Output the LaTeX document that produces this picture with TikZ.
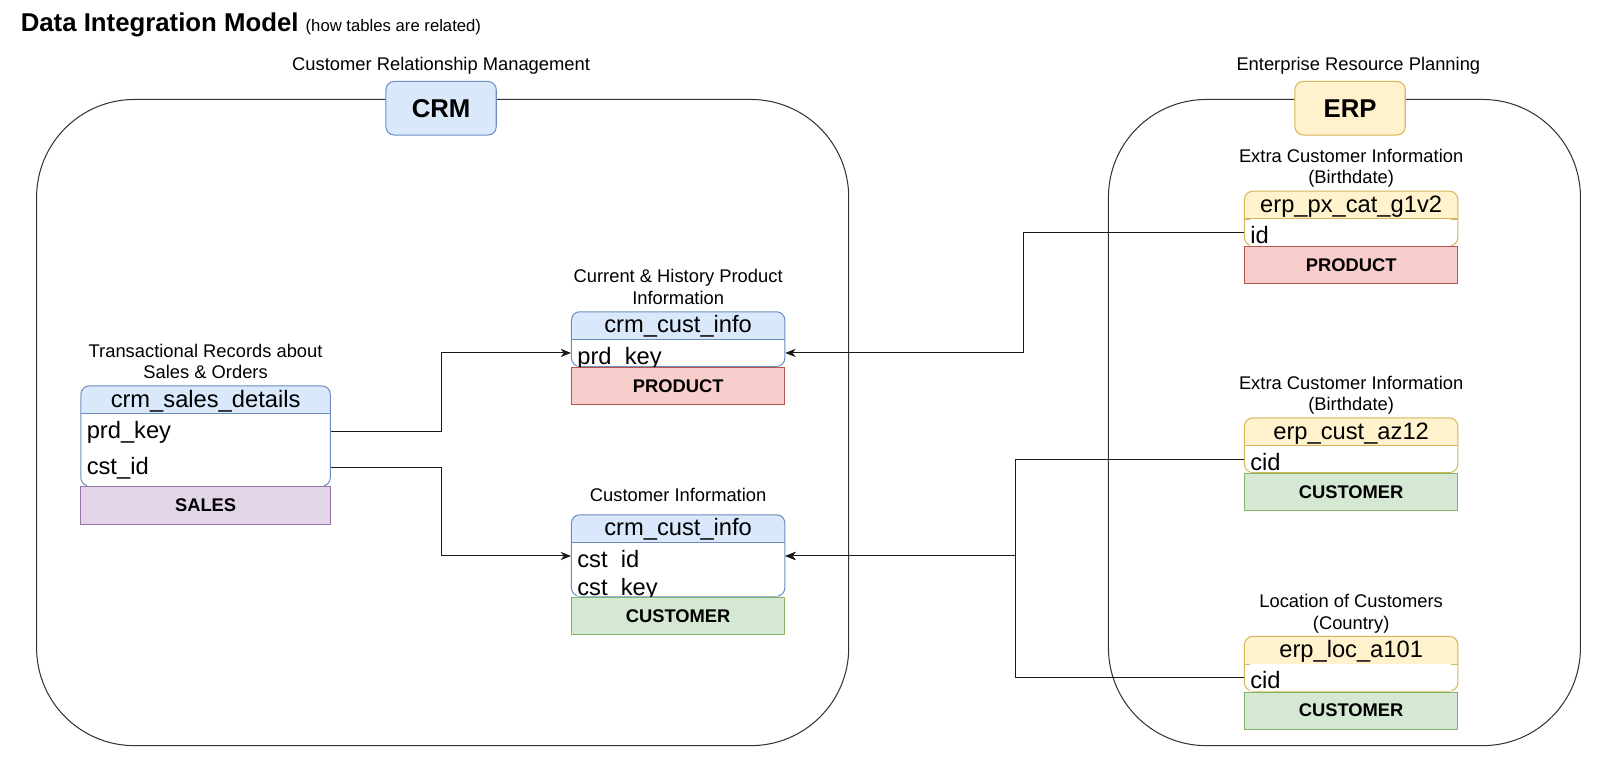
\documentclass[tikz,border=0pt]{standalone}
\usepackage{fontspec}
\setmainfont{Liberation Sans}
\usetikzlibrary{positioning,arrows.meta}

\definecolor{crmfill}{HTML}{DAE8FC}
\definecolor{crmline}{HTML}{6C8EBF}
\definecolor{erpfill}{HTML}{FFF2CC}
\definecolor{erpline}{HTML}{D6B656}
\definecolor{salesfill}{HTML}{E1D5E7}
\definecolor{salesline}{HTML}{9673A6}
\definecolor{prodfill}{HTML}{F8CECC}
\definecolor{prodline}{HTML}{B85450}
\definecolor{custfill}{HTML}{D5E8D4}
\definecolor{custline}{HTML}{82B366}

\newcommand{\lblfont}{\fontsize{17.8}{21}\selectfont}
\newcommand{\tblfont}{\fontsize{23}{26}\selectfont}

\tikzset{
  system/.style={draw=black!80, line width=1pt, rounded corners=95pt,
    anchor=north west, inner sep=0pt},
  syslabel/.style 2 args={draw=#1, fill=#2, rounded corners=8pt, line width=1pt,
    minimum width=107pt, minimum height=52pt,
    font=\bfseries\fontsize{25}{30}\selectfont},
  caption/.style={font=\lblfont, align=center, inner sep=0pt},
  dbtable/.style n args={4}{draw=#1, fill=white, line width=1pt, rounded corners=8pt,
    anchor=north west, inner sep=0pt, minimum width=#3, minimum height=#4,
    path picture={
      \fill[#2, sharp corners] (path picture bounding box.north west)
        rectangle ([yshift=-27pt]path picture bounding box.north east);
      \draw[#1, line width=1pt, sharp corners]
        ([yshift=-27pt]path picture bounding box.north west)
        -- ([yshift=-27pt]path picture bounding box.north east);}},
  hdr/.style={font=\tblfont, inner sep=0pt, text height=18pt, text depth=3pt},
  field/.style 2 args={anchor=north west, fill=white, inner sep=0pt, font=\tblfont,
    text width=#1, text height=23.5pt, text depth=#2},
  entity/.style n args={3}{draw=#1, fill=#2, minimum width=#3, minimum height=36pt,
    inner sep=0pt, line width=1pt, font=\bfseries\lblfont},
  link/.style={draw=black!90, line width=1pt,
    -{Stealth[length=10pt,width=8pt,inset=3pt]}},
}

\begin{document}
\begin{tikzpicture}[x=1pt,y=-1pt]
    \fill[white] (0,0) rectangle (1568,737.4);
    \useasboundingbox (0,0) rectangle (1568,737.4);

    %% Title
    \node[anchor=base west, inner sep=0pt] (title) at (20,31)
        {\bfseries\fontsize{25}{30}\selectfont Data Integration Model
         {\mdseries\fontsize{16.2}{19}\selectfont(how tables are related)}};

    %% Systems
    \node[system, minimum width=788pt, minimum height=627pt] (crm) at (35,96) {};
    \node[syslabel={crmline}{crmfill}] (crmL) at (428,105) {CRM};
    \node[caption] (crmT) at (428,64) {Customer Relationship Management};
    \node[system, minimum width=458pt, minimum height=627pt] (erp) at (1075,96) {};
    \node[syslabel={erpline}{erpfill}] (erpL) at (1310,105) {ERP};
    \node[caption] (erpT) at (1318,64) {Enterprise Resource Planning};

    %% CRM tables
    \node[dbtable={crmline}{crmfill}{242pt}{97pt}] (sales) at (78,374) {};
    \node[hdr] (salesH) at ([yshift=-13.5pt]sales.north) {crm\_sales\_details};
    \node[field={230pt}{11pt}] (salesR1) at ([shift={(6pt,-27.5pt)}]sales.north west) {prd\_key};
    \node[field={230pt}{11pt}, below=0pt of salesR1] (salesR2) {cst\_id};
    \node[entity={salesline}{salesfill}{242pt}, below=0pt of sales] (salesE) {SALES};
    \node[caption, above=0pt of sales] (salesC) {Transactional Records about\\Sales \& Orders\strut};

    \node[dbtable={crmline}{crmfill}{207pt}{53pt}] (pinfo) at (554,302) {};
    \node[hdr] (pinfoH) at ([yshift=-13.5pt]pinfo.north) {crm\_cust\_info};
    \node[field={195pt}{2pt}] (pinfoR1) at ([shift={(6pt,-27.5pt)}]pinfo.north west) {prd\_key};
    \node[entity={prodline}{prodfill}{207pt}, below=0pt of pinfo] (pinfoE) {PRODUCT};
    \node[caption, above=0pt of pinfo] (pinfoC) {Current \& History Product\\Information\strut};

    \node[dbtable={crmline}{crmfill}{207pt}{79pt}] (cinfo) at (554,499) {};
    \node[hdr] (cinfoH) at ([yshift=-13.5pt]cinfo.north) {crm\_cust\_info};
    \node[field={195pt}{2pt}] (cinfoR1) at ([shift={(6pt,-27.5pt)}]cinfo.north west) {cst\_id};
    \node[field={195pt}{1pt}, text height=25pt, below=0pt of cinfoR1] (cinfoR2) {cst\_key};
    \node[entity={custline}{custfill}{207pt}, below=0pt of cinfo] (cinfoE) {CUSTOMER};
    \node[caption, above=6pt of cinfo] (cinfoC) {Customer Information\strut};

    %% ERP tables
    \node[dbtable={erpline}{erpfill}{207pt}{53pt}] (px) at (1207,185) {};
    \node[hdr] (pxH) at ([yshift=-13.5pt]px.north) {erp\_px\_cat\_g1v2};
    \node[field={195pt}{2pt}] (pxR1) at ([shift={(6pt,-27.5pt)}]px.north west) {id};
    \node[entity={prodline}{prodfill}{207pt}, below=0pt of px] (pxE) {PRODUCT};
    \node[caption, above=0pt of px] (pxC) {Extra Customer Information\\(Birthdate)\strut};

    \node[dbtable={erpline}{erpfill}{207pt}{53pt}] (az) at (1207,405) {};
    \node[hdr] (azH) at ([yshift=-13.5pt]az.north) {erp\_cust\_az12};
    \node[field={195pt}{2pt}] (azR1) at ([shift={(6pt,-27.5pt)}]az.north west) {cid};
    \node[entity={custline}{custfill}{207pt}, below=0pt of az] (azE) {CUSTOMER};
    \node[caption, above=0pt of az] (azC) {Extra Customer Information\\(Birthdate)\strut};

    \node[dbtable={erpline}{erpfill}{207pt}{53pt}] (loc) at (1207,617) {};
    \node[hdr] (locH) at ([yshift=-13.5pt]loc.north) {erp\_loc\_a101};
    \node[field={195pt}{2pt}] (locR1) at ([shift={(6pt,-27.5pt)}]loc.north west) {cid};
    \node[entity={custline}{custfill}{207pt}, below=0pt of loc] (locE) {CUSTOMER};
    \node[caption, above=0pt of loc] (locC) {Location of Customers\\(Country)\strut};

    %% Links
    \coordinate (busL) at (428,0);
    \coordinate (busP) at (993,0);
    \coordinate (busC) at (985,0);
    \draw[link] (salesR1 -| sales.east) -| (busL |- pinfoR1) -- (pinfoR1 -| pinfo.west);
    \draw[link] (salesR2 -| sales.east) -| (busL |- cinfoR1) -- (cinfoR1 -| cinfo.west);
    \draw[link] (pxR1 -| px.west) -| (busP |- pinfoR1) -- (pinfoR1 -| pinfo.east);
    \draw[link] (azR1 -| az.west) -| (busC |- cinfoR1) -- (cinfoR1 -| cinfo.east);
    \draw[link] (locR1 -| loc.west) -| (busC |- cinfoR1) -- (cinfoR1 -| cinfo.east);
\end{tikzpicture}
\end{document}
